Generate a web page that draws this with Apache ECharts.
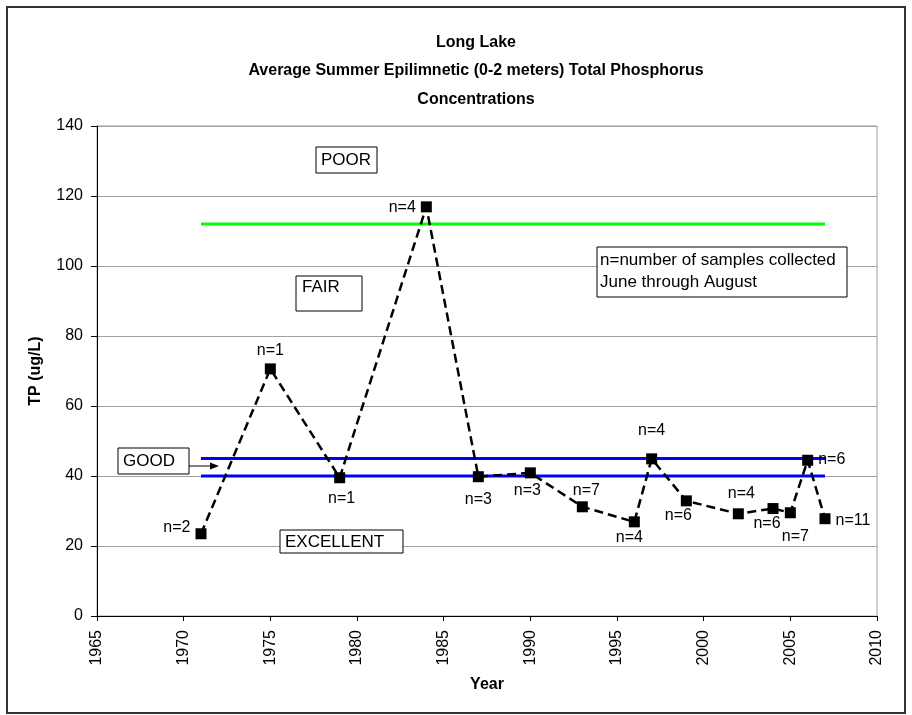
<!DOCTYPE html>
<html>
<head>
<meta charset="utf-8">
<script src="https://cdn.jsdelivr.net/npm/echarts@6/dist/echarts.min.js"></script>
<style>html,body{margin:0;padding:0;background:#fff;}#c{width:912px;height:715px;}</style>
</head>
<body>
<div id="c"></div>
<script>
// ---- data ----
const years = [1971, 1975, 1979, 1984, 1987, 1990, 1993, 1996, 1997, 1999, 2002, 2004, 2005, 2006, 2007];
const tp = [23.5, 70.6, 39.5, 116.9, 39.8, 40.9, 31.2, 26.9, 44.9, 32.9, 29.2, 30.7, 29.5, 44.5, 27.8];
const nLabels = ['n=2', 'n=1', 'n=1', 'n=4', 'n=3', 'n=3', 'n=7', 'n=4', 'n=4', 'n=6', 'n=4', 'n=6', 'n=7', 'n=6', 'n=11'];
const thresholdYears = [1971, 2007];
const poorFairLevel = 112;
const goodUpperLevel = 45;
const goodLowerLevel = 40;
const xTicks = [1965, 1970, 1975, 1980, 1985, 1990, 1995, 2000, 2005, 2010];
const yTicks = [0, 20, 40, 60, 80, 100, 120, 140];

// ---- label placement (style only) ----
const labelPlacement = [
  ['left', [0, -6]], ['top', [0, 0]], ['bottom', [2, 2]], ['left', [0, 1]],
  ['bottom', [0, 4]], ['bottom', [-3, -1]], ['top', [4, 2]], ['bottom', [-5, -3]],
  ['top', [0, -10]], ['bottom', [-8, -4]], ['top', [3, -2]], ['bottom', [-6, -3]],
  ['bottom', [5, 5]], ['right', [0, -1]], ['right', [0, 2]]
];

const FONT = 'Liberation Sans, Arial, sans-serif';
const chart = echarts.init(document.getElementById('c'), null, {renderer: 'canvas'});

const pts = years.map((y, i) => ({
  value: [y, tp[i]],
  label: {
    show: true, formatter: nLabels[i], position: labelPlacement[i][0],
    offset: labelPlacement[i][1], distance: 5,
    fontFamily: FONT, fontSize: 16, color: '#000'
  }
}));
const hLine = lvl => thresholdYears.map(y => [y, lvl]);

function box(x, y, w, h, lines, tx, ty, va) {
  return [
    {type: 'rect', shape: {x: x, y: y, width: w, height: h}, style: {fill: '#fff', stroke: '#000', lineWidth: 1}, z: 50},
    {type: 'text', x: tx, y: ty, style: {text: lines, font: '17px ' + FONT, fill: '#000', lineHeight: 22, textVerticalAlign: va || 'middle'}, z: 51}
  ];
}

const option = {
  animation: false,
  backgroundColor: '#fff',
  title: {
    text: 'Long Lake\nAverage Summer Epilimnetic (0-2 meters) Total Phosphorus\nConcentrations',
    left: 471, top: 23, textAlign: 'center',
    textStyle: {fontFamily: FONT, fontSize: 16, fontWeight: 'bold', color: '#000', lineHeight: 28.5}
  },
  grid: {left: 97, right: 35, top: 126, bottom: 99, show: true, borderColor: '#a0a0a0', borderWidth: 1},
  xAxis: {
    type: 'value', min: xTicks[0], max: xTicks[xTicks.length - 1], interval: 5,
    name: 'Year', nameLocation: 'middle', nameGap: 61,
    nameTextStyle: {fontFamily: FONT, fontSize: 16, fontWeight: 'bold', color: '#000'},
    axisLine: {show: true, lineStyle: {color: '#000', width: 1}},
    axisTick: {show: true, inside: false, length: 5, lineStyle: {color: '#000'}},
    axisLabel: {rotate: 90, fontFamily: FONT, fontSize: 16, color: '#000', margin: 14, formatter: v => String(v)},
    splitLine: {show: false}
  },
  yAxis: {
    type: 'value', min: yTicks[0], max: yTicks[yTicks.length - 1], interval: 20,
    name: 'TP (ug/L)', nameLocation: 'middle', nameGap: 53, nameRotate: 90,
    nameTextStyle: {fontFamily: FONT, fontSize: 16, fontWeight: 'bold', color: '#000'},
    axisLine: {show: true, lineStyle: {color: '#000', width: 1}},
    axisTick: {show: true, inside: false, length: 6, lineStyle: {color: '#000'}},
    axisLabel: {fontFamily: FONT, fontSize: 16, color: '#000', margin: 14, formatter: v => String(v)},
    splitLine: {show: true, lineStyle: {color: '#a0a0a0', width: 1}}
  },
  series: [
    {type: 'line', data: hLine(poorFairLevel), symbol: 'none', lineStyle: {color: '#00ff00', width: 3}, z: 3, silent: true},
    {type: 'line', data: hLine(goodUpperLevel), symbol: 'none', lineStyle: {color: '#0000ff', width: 3}, z: 3, silent: true},
    {type: 'line', data: hLine(goodLowerLevel), symbol: 'none', lineStyle: {color: '#0000ff', width: 3}, z: 3, silent: true},
    {
      type: 'line', data: pts, symbol: 'rect', symbolSize: 11,
      itemStyle: {color: '#000'},
      lineStyle: {color: '#000', width: 2.5, type: [9, 5]},
      z: 5
    }
  ],
  graphic: [
    {type: 'rect', shape: {x: 7, y: 7, width: 898, height: 706}, style: {fill: 'none', stroke: '#333', lineWidth: 2}, z: 60},
    ...box(316, 147, 61, 26, 'POOR', 321, 160),
    ...box(296, 276, 66, 35, 'FAIR', 302, 287),
    ...box(118, 448, 71, 26, 'GOOD', 123, 461),
    {type: 'line', shape: {x1: 189, y1: 466, x2: 212, y2: 466}, style: {stroke: '#000', lineWidth: 1}, z: 50},
    {type: 'polygon', shape: {points: [[219, 466], [210, 462.5], [210, 469.5]]}, style: {fill: '#000'}, z: 50},
    ...box(280, 530, 123, 23, 'EXCELLENT', 285, 542),
    ...box(597, 247, 250, 50, 'n=number of samples collected\nJune through August', 600, 249, 'top')
  ]
};
chart.setOption(option);
</script>
</body>
</html>
